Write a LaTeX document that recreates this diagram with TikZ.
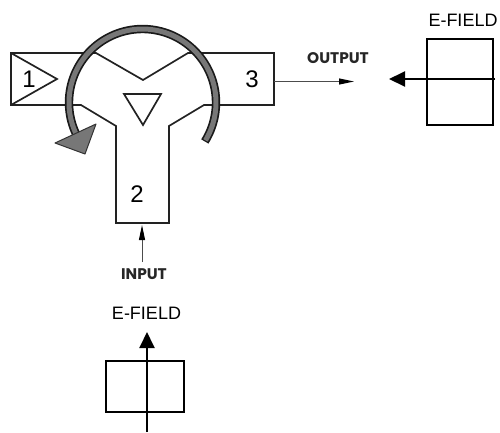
\documentclass[tikz,border=0pt]{standalone}
\usepackage{fontspec}
\setmainfont{Liberation Sans}
\newfontfamily\geofont{Poppins}
\usetikzlibrary{arrows.meta}
\definecolor{guide}{HTML}{222222}
\definecolor{ringgray}{HTML}{777777}
\tikzset{
  guideline/.style={draw=guide,line width=1.7pt,line join=miter},
  fieldbox/.style={draw=black,line width=1.5pt},
  fieldarrow/.style={draw=black,line width=2pt,-{Triangle[length=16pt,width=15pt]}},
  signalarrow/.style={draw=black!70,line width=1pt,-{Triangle[length=15pt,width=6pt,color=black]}},
  portlabel/.style={inner sep=0pt,font=\fontsize{24}{24}\selectfont},
  fieldlabel/.style={inner sep=0pt,font=\fontsize{18}{18}\selectfont},
  signallabel/.style={inner sep=0pt,text=black!85,font=\geofont\bfseries\fontsize{15.4}{15.4}\selectfont},
}
\begin{document}
\begin{tikzpicture}[x=1pt,y=-1pt]
\useasboundingbox (0,0) rectangle (500,432);
% waveguide junction
\draw[guideline] (274,53) -- (188,53) -- (143,80) -- (96,53) -- (11,53) -- (11,105) -- (81,105)
  -- (116,126) -- (116,223) -- (169,223) -- (169,126) -- (204,105) -- (274,105) -- cycle;
\draw[guideline] (11,53) -- (57,79) -- (11,105);
\draw[guideline] (124,94) -- (161,94) -- (143,125) -- cycle;
% circulation ring
\draw[black!90,line width=8.4pt] plot[domain=32:-206,samples=90] ({142.5+73.5*cos(\x)},{102.5+73.5*sin(\x)});
\draw[ringgray,line width=5pt] plot[domain=31:-206,samples=90] ({142.5+73.5*cos(\x)},{102.5+73.5*sin(\x)});
\draw[fill=ringgray,draw=black!80,line width=1pt,line join=round] (96,124) -- (55,143) -- (85,154) -- cycle;
% labels
\node[portlabel] (p1) at (29,79) {1};
\node[portlabel] (p2) at (137,194) {2};
\node[portlabel] (p3) at (252,79) {3};
\node[signallabel] (out) at (338,58) {OUTPUT};
\node[signallabel] (in) at (144,274) {INPUT};
\node[fieldlabel] (ef1) at (463,20) {E-FIELD};
\node[fieldlabel] (ef2) at (146.5,313) {E-FIELD};
% signal arrows
\coordinate (outS) at (274,81.5);
\coordinate (outE) at (354,81.5);
\coordinate (inS) at (142,262);
\coordinate (inE) at (142,225);
\draw[signalarrow] (outS) -- (outE);
\draw[signalarrow] (inS) -- (inE);
% field boxes
\node[fieldbox,minimum width=66pt,minimum height=86pt,inner sep=0pt] (box1) at (460,82) {};
\node[fieldbox,minimum width=78pt,minimum height=51pt,inner sep=0pt] (box2) at (145,386.5) {};
\coordinate (a1S) at (495,79);
\coordinate (a1E) at (389,79);
\coordinate (a2S) at (147,432);
\coordinate (a2E) at (147,332);
\draw[fieldarrow] (a1S) -- (a1E);
\draw[fieldarrow] (a2S) -- (a2E);
\end{tikzpicture}
\end{document}
